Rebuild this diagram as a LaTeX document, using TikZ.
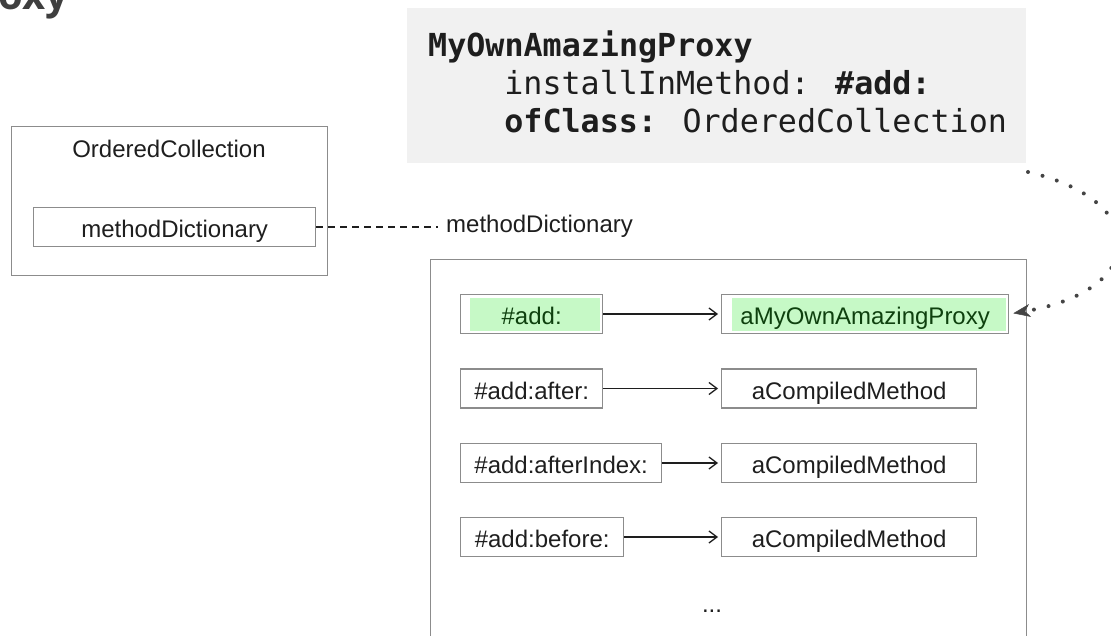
\documentclass[tikz,border=0pt]{standalone}
\usepackage{fontspec}
\setmainfont{Liberation Sans}
\newfontfamily\codefont{DejaVu Sans Mono}
\newfontfamily\headfont{Open Sans}
\usetikzlibrary{arrows.meta,calc}

\definecolor{boxline}{HTML}{8C8C8C}
\definecolor{codebg}{HTML}{F1F1F1}
\definecolor{ink}{HTML}{1E1E1E}
\definecolor{hilite}{HTML}{C6F9C6}
\definecolor{hiliteink}{HTML}{0E400E}
\definecolor{dotink}{HTML}{444444}
\definecolor{headink}{HTML}{3F3F3F}

\begin{document}
\begin{tikzpicture}[x=1pt,y=-1pt,
  lbl/.style={font=\fontsize{24}{28}\selectfont, text=ink},
  cell/.style={lbl, draw=boxline, line width=1.3pt, rectangle, inner sep=0pt,
    minimum height=39pt, anchor=west, text height=21pt, text depth=0pt},
  frame/.style={draw=boxline, line width=1.3pt, rectangle, inner sep=0pt, anchor=north west},
  hl/.style={text=hiliteink, path picture={
    \fill[hilite] ($(path picture bounding box.north west)+(#1,4)$)
      rectangle ($(path picture bounding box.south east)+(-3,-3)$);}},
  code/.style={font=\codefont\fontsize{31.7}{38}\selectfont, text=ink,
    anchor=base west, inner sep=0pt},
  link/.style={draw=ink, line width=1.3pt,
    -{Straight Barb[length=8pt,width=12pt]}, shorten >=3pt},
  refline/.style={draw=ink, line width=1.2pt, dash pattern=on 7pt off 5pt},
  dotted link/.style={draw=dotink, line width=4pt, line cap=round,
    dash pattern=on 0pt off 15pt,
    -{Stealth[length=17pt,width=13pt,inset=5pt,line width=0.5pt]}, shorten >=4pt}
]
\clip (0,0) rectangle (1111,636);

% heading fragment
\node[font=\headfont\bfseries\fontsize{40}{46}\selectfont, text=headink,
  anchor=base west, inner sep=0pt] (head) at (-2,10) {oxy};

% code snippet
\node[fill=codebg, rectangle, inner sep=0pt, anchor=north west,
  minimum width=619pt, minimum height=155pt] (codebox) at (407,8) {};
\node[code] (c1) at (428,57) {\bfseries MyOwnAmazingProxy};
\node[code] (c2) at (504.2,95) {installInMethod: \textbf{\#add:}};
\node[code] (c3) at (504.2,133) {\textbf{ofClass:} OrderedCollection};

% the class and its method dictionary slot
\node[frame, minimum width=316pt, minimum height=149pt] (cls) at (11,126) {};
\node[lbl, anchor=base, inner sep=0pt] (clsname) at (169,158) {OrderedCollection};
\node[cell, minimum width=282pt] (md) at (33,227) {methodDictionary};

\node[lbl, anchor=base west, inner sep=0pt] (mdlabel) at (446,233) {methodDictionary};
\draw[refline] (md.east) -- ([xshift=-8pt]md.east -| mdlabel.west);

% the dictionary contents
\node[frame, minimum width=596pt, minimum height=460pt] (dict) at (430,259) {};

\node[cell, minimum width=142pt, hl=9] (k1) at (460,314) {\#add:};
\node[cell, minimum width=287pt, hl=10] (v1) at (721,314) {aMyOwnAmazingProxy};

\node[cell, minimum width=142pt] (k2) at (460,388.5) {\#add:after:};
\node[cell, minimum width=255pt] (v2) at (721,388.5) {aCompiledMethod};

\node[cell, minimum width=201pt] (k3) at (460,463) {\#add:afterIndex:};
\node[cell, minimum width=255pt] (v3) at (721,463) {aCompiledMethod};

\node[cell, minimum width=163pt] (k4) at (460,537) {\#add:before:};
\node[cell, minimum width=255pt] (v4) at (721,537) {aCompiledMethod};

\node[lbl, anchor=base, inner sep=0pt] (more) at (712,612) {...};

\draw[link] (k1) -- (v1);
\draw[link] (k2) -- (v2);
\draw[link] (k3) -- (v3);
\draw[link] (k4) -- (v4);

% installation of the proxy
\coordinate (src) at (1028,172);
\draw[dotted link] (src) .. controls (1150,200) and (1150,290) .. (v1.east);
\end{tikzpicture}
\end{document}
